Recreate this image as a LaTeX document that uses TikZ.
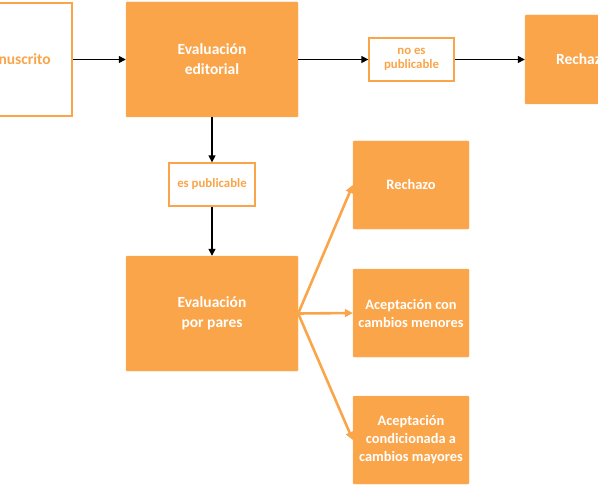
\documentclass[tikz,border=0pt]{standalone}
\usepackage{fontspec}
\setmainfont{Carlito}
\usepackage{xcolor}
\usepackage{tikz}
\usetikzlibrary{positioning, arrows.meta}

\definecolor{naranja}{HTML}{FAA54A}

\begin{document}
\begin{tikzpicture}[
    x=1pt, y=-1pt,
    caja/.style={rectangle, fill=naranja, draw=naranja!90!white, rounded corners=1pt, align=center, text=white, font=\fontsize{15.5}{20}\selectfont\bfseries},
    cajaborde/.style={rectangle, fill=white, draw=naranja, line width=1.3pt, align=center, text=naranja, font=\fontsize{12.8}{14.5}\selectfont\bfseries},
    arr/.style={-{Triangle[length=7pt, width=7pt]}, line width=1.4pt, black},
    oarr/.style={-{Triangle[length=8pt, width=8pt]}, line width=2.6pt, naranja},
]

\useasboundingbox (0,0) rectangle (598,487);
\clip (0,0) rectangle (598,487);

\node[cajaborde, minimum width=116pt, minimum height=113pt, font=\fontsize{15.5}{20}\selectfont\bfseries] (manus) at (14, 59.5) {Manuscrito};
\node[caja, minimum width=172pt, minimum height=115pt] (editorial) at (212, 59.5) {Evaluación\\editorial};
\node[cajaborde, minimum width=85pt, minimum height=43pt] (noes) at (411.5, 59.5) {no es\\publicable};
\node[caja, minimum width=115pt, minimum height=89pt] (rechuno) at (582.5, 59.5) {Rechazo};

\node[cajaborde, minimum width=86pt, minimum height=43pt] (espub) at (212, 184.5) {es publicable};
\node[caja, minimum width=172pt, minimum height=115pt] (pares) at (212, 313.5) {Evaluación\\por pares};

\node[caja, minimum width=116pt, minimum height=88pt, font=\fontsize{14.4}{18}\selectfont\bfseries] (rechdos) at (411, 185) {Rechazo};
\node[caja, minimum width=116pt, minimum height=88pt, font=\fontsize{14.4}{18}\selectfont\bfseries] (acmen) at (411, 313) {Aceptación con\\cambios menores};
\node[caja, minimum width=116pt, minimum height=88pt, font=\fontsize{14.4}{18}\selectfont\bfseries] (accond) at (411, 440) {Aceptación\\condicionada a\\cambios mayores};

\draw[arr] (manus) -- (editorial);
\draw[arr] (editorial) -- (noes);
\draw[arr] (noes) -- (rechuno);
\draw[arr] (editorial) -- (espub);
\draw[arr] (espub) -- (pares);

\draw[oarr] (pares.east) -- (rechdos.west);
\draw[oarr] (pares.east) -- (acmen.west);
\draw[oarr] (pares.east) -- (accond.west);

\end{tikzpicture}
\end{document}
